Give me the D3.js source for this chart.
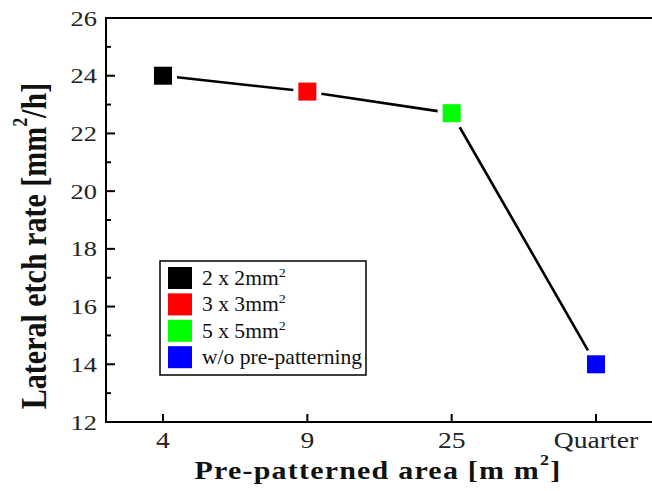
<!DOCTYPE html>
<html>
<head>
<meta charset="utf-8">
<script src="https://cdn.jsdelivr.net/npm/d3@7"></script>
<style>
html,body{margin:0;padding:0;background:#fff;}
svg{display:block;font-family:"Liberation Serif","Times New Roman",serif;}
</style>
</head>
<body>
<svg id="chart" width="652" height="491"></svg>
<script>
const categories = ["4", "9", "25", "Quarter"];
const values = [24.0, 23.45, 22.7, 14.0];
const colors = ["#000000", "#ff0000", "#00ff00", "#0000ff"];
const legendLabels = ["2 x 2mm", "3 x 3mm", "5 x 5mm", "w/o pre-patterning"];
const legendSup = [true, true, true, false];
const yMajorTicks = [12, 14, 16, 18, 20, 22, 24, 26];
const yMinorTicks = [13, 15, 17, 19, 21, 23, 25];

const svg = d3.select("#chart");
const L = 106, R = 653, T = 18, B = 422;
const SX = 1.2;

const x = d3.scalePoint().domain(categories).range([L, R]).padding(0.395);
const y = d3.scaleLinear().domain([12, 26]).range([B, T]);

// frame
svg.append("line").attr("x1", L).attr("x2", 660).attr("y1", T).attr("y2", T).attr("stroke", "#000").attr("stroke-width", 2);
svg.append("line").attr("x1", L).attr("x2", 660).attr("y1", B).attr("y2", B).attr("stroke", "#000").attr("stroke-width", 2);
svg.append("line").attr("x1", L).attr("x2", L).attr("y1", T - 1).attr("y2", B + 1).attr("stroke", "#000").attr("stroke-width", 2);

// y ticks
svg.selectAll(".ymaj").data(yMajorTicks).join("line")
  .attr("x1", L).attr("x2", L + 9).attr("y1", d => y(d)).attr("y2", d => y(d))
  .attr("stroke", "#000").attr("stroke-width", 2);
svg.selectAll(".ymin").data(yMinorTicks).join("line")
  .attr("x1", L).attr("x2", L + 5).attr("y1", d => y(d)).attr("y2", d => y(d))
  .attr("stroke", "#000").attr("stroke-width", 2);
svg.selectAll(".ylab").data(yMajorTicks).join("text")
  .attr("transform", d => `translate(97,${y(d) + 7.5}) scale(1.2,1)`)
  .attr("text-anchor", "end").attr("font-size", 22).attr("fill", "#222")
  .text(d => d);

// x ticks
svg.selectAll(".xt").data(categories).join("line")
  .attr("x1", d => x(d)).attr("x2", d => x(d)).attr("y1", B).attr("y2", B - 8)
  .attr("stroke", "#000").attr("stroke-width", 2);
svg.selectAll(".xlab").data(categories).join("text")
  .attr("transform", d => `translate(${x(d)},${B + 26}) scale(${SX},1)`)
  .attr("text-anchor", "middle").attr("font-size", 23).attr("fill", "#222")
  .text(d => d);

// connecting line with gaps
const pts = categories.map((c, i) => [x(c), y(values[i])]);
const gap = 14;
for (let i = 0; i < pts.length - 1; i++) {
  const [x0, y0] = pts[i], [x1, y1] = pts[i + 1];
  const dx = x1 - x0, dy = y1 - y0;
  const t = gap / Math.max(Math.abs(dx), Math.abs(dy));
  svg.append("line")
    .attr("x1", x0 + t * dx).attr("y1", y0 + t * dy)
    .attr("x2", x1 - t * dx).attr("y2", y1 - t * dy)
    .attr("stroke", "#000").attr("stroke-width", 2.6);
}

// markers
const ms = 18;
svg.selectAll(".mk").data(categories).join("rect")
  .attr("x", d => x(d) - ms / 2).attr("y", (d, i) => y(values[i]) - ms / 2)
  .attr("width", ms).attr("height", ms)
  .attr("fill", (d, i) => colors[i]);

// legend
const lg = svg.append("g");
lg.append("rect").attr("x", 160).attr("y", 261).attr("width", 206).attr("height", 114)
  .attr("fill", "#fff").attr("stroke", "#000").attr("stroke-width", 1.5);
legendLabels.forEach((lab, i) => {
  const cy = 278 + i * 26.4;
  lg.append("rect").attr("x", 168).attr("y", cy - 11).attr("width", 24).attr("height", 22).attr("fill", colors[i]);
  const t = lg.append("text").attr("transform", `translate(202,${cy + 7}) scale(1.08,1)`)
    .attr("font-size", 20).attr("fill", "#111");
  t.append("tspan").text(lab);
  if (legendSup[i]) t.append("tspan").attr("font-size", 13).attr("dy", -8).text("2");
});

// x title
const xt = svg.append("text")
  .attr("transform", `translate(378,479) scale(${SX},1)`)
  .attr("text-anchor", "middle").attr("font-size", 25).attr("font-weight", "bold")
  .attr("letter-spacing", 1).attr("fill", "#111");
xt.append("tspan").text("Pre-patterned area [m m");
xt.append("tspan").attr("font-size", 15).attr("dy", -14).text("2");
xt.append("tspan").attr("dy", 14).text("]");

// y title
const yt = svg.append("text")
  .attr("transform", `translate(46,246) scale(1.2,1) rotate(-90)`)
  .attr("text-anchor", "middle").attr("font-size", 30).attr("font-weight", "bold")
  .attr("fill", "#111");
yt.append("tspan").text("Lateral etch rate [mm");
yt.append("tspan").attr("font-size", 18).attr("dy", -16).text("2");
yt.append("tspan").attr("dy", 16).text("/h]");
</script>
</body>
</html>
